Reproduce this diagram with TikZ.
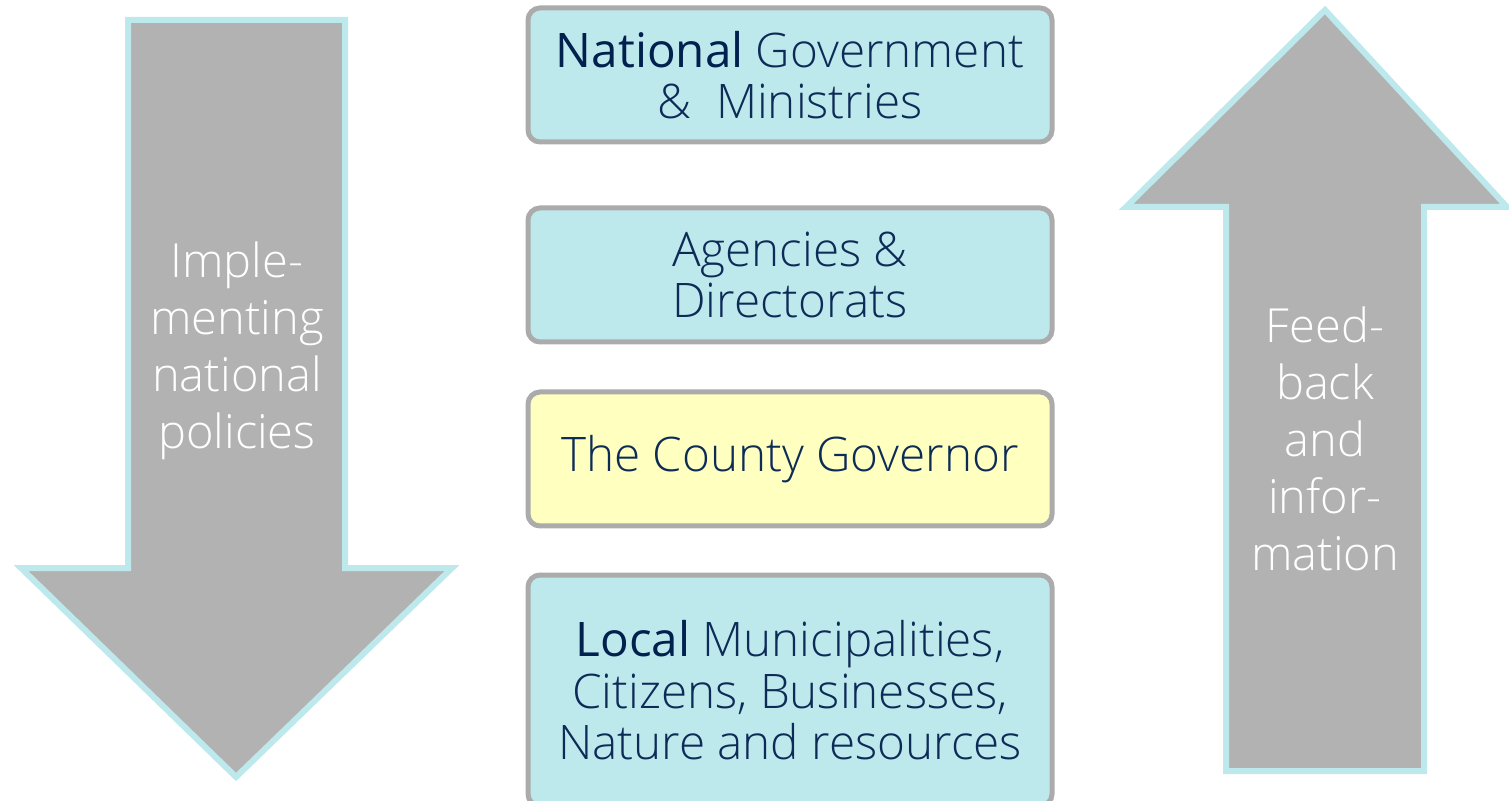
\documentclass[tikz,border=0pt]{standalone}
\usepackage{fontspec}
\setmainfont{Open Sans Light}
\newfontfamily\regfont{Open Sans}
\definecolor{boxfill}{HTML}{BEE9EC}
\definecolor{boxline}{HTML}{ABABAB}
\definecolor{govfill}{HTML}{FFFFC0}
\definecolor{arrowfill}{HTML}{B2B2B2}
\definecolor{arrowline}{HTML}{BDE9EC}
\definecolor{navy}{HTML}{0D2B57}
\definecolor{darknavy}{HTML}{00204E}
\tikzset{
    level/.style={draw=boxline, line width=2.5pt, fill=boxfill, rounded corners=6pt,
        minimum width=262pt, minimum height=67pt, text=navy, align=center,
        font=\fontsize{23.8}{25.8}\selectfont},
    flow/.style={fill=arrowfill, draw=arrowline, line width=3pt},
    flowtext/.style={text=white, align=center, font=\fontsize{23.5}{28.5}\selectfont}
}
\newcommand{\levelkey}[1]{{\regfont\color{darknavy}#1}}
\begin{document}
\begin{tikzpicture}[x=0.5pt, y=-0.5pt]
    \useasboundingbox (0,0) rectangle (1509,801);
    \clip (0,0) rectangle (1509,801);
    \coordinate (down tip) at (236, 777);
    \coordinate (up tip) at (1325, 10);
    \draw[flow] (128,20) -- (345,20) -- (345,568) -- (452,568) -- (down tip)
        -- (21,568) -- (128,568) -- cycle;
    \draw[flow] (1226,771) -- (1226,207) -- (1126,207) -- (up tip)
        -- (1507,207) -- (1424,207) -- (1424,771) -- cycle;
    \node[flowtext] (down) at (237,351) {Imple-\\menting\\national\\policies};
    \node[flowtext] (up) at (1325,439) {Feed-\\back\\and\\infor-\\mation};
    \node[level] (national) at (790,75) {\levelkey{National} Government\\\&\ \ Ministries};
    \node[level] (agencies) at (790,275) {Agencies \&\\Directorats};
    \node[level, fill=govfill] (governor) at (790,459) {The County Governor};
    \node[level, minimum height=115.5pt] (local) at (790,690.5)
        {\levelkey{Local} Municipalities,\\Citizens, Businesses,\\Nature and resources};
\end{tikzpicture}
\end{document}
